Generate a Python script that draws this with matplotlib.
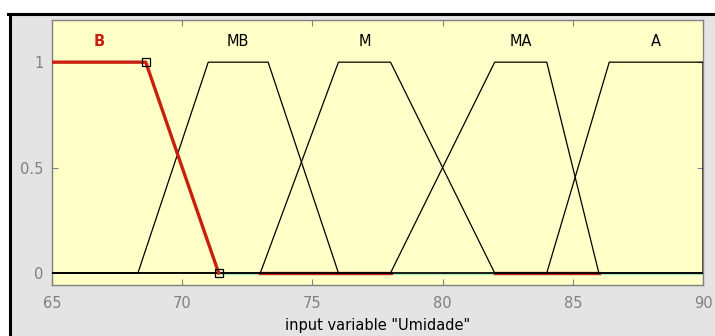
import matplotlib
matplotlib.use('Agg')
import matplotlib.pyplot as plt
import matplotlib.patches as patches
from matplotlib.lines import Line2D

# trapezoidal membership functions of "Umidade"
mf_names = ['B', 'MB', 'M', 'MA', 'A']
mf_params = [
    [65.0, 65.0, 68.6, 71.4],
    [68.3, 71.0, 73.3, 76.0],
    [73.0, 76.0, 78.0, 82.0],
    [78.0, 82.0, 84.0, 86.0],
    [84.0, 86.4, 90.0, 90.0],
]
selected = 'B'
x_range = [65, 90]
x_ticks = [65, 70, 75, 80, 85, 90]
y_ticks = [0, 0.5, 1]
y_tick_labels = ['0', '0.5', '1']
# highlighted pieces of the zero line (red) as seen in the picture
red_zero_segments = [[73.0, 78.0], [82.0, 86.0]]
xlabel = 'input variable "Umidade"'

RED = '#c8200e'

fig = plt.figure(figsize=(7.15, 3.36), dpi=100, facecolor='white')
# gray panel with black top/left border
fig.patches.append(patches.Rectangle((9/715, 0), 1, 1 - 14/336, transform=fig.transFigure,
                                     facecolor='#e4e4e4', edgecolor='none', zorder=-10))
fig.lines.append(Line2D([8/715, 1], [1 - 14/336, 1 - 14/336], transform=fig.transFigure,
                        color='black', lw=2.2))
fig.lines.append(Line2D([9.5/715, 9.5/715], [0, 1 - 14/336], transform=fig.transFigure,
                        color='black', lw=2.2))

ax = fig.add_axes([52/715, 51/336, 651/715, 265/336])
ax.set_facecolor('#ffffc8')
ax.set_xlim(x_range)
ax.set_ylim(-0.057, 1.2)

# light green baseline
ax.plot([mf_params[0][3], x_range[1]], [-0.006, -0.006], color='#a8eec0', lw=1.6, zorder=1)

for name, (a, b, c, d) in zip(mf_names, mf_params):
    xs = [x_range[0], a, b, c, d, x_range[1]]
    ys = [0, 0, 1, 1, 0, 0]
    if name == selected:
        ax.plot([b, c, d], [1, 1, 0], color=RED, lw=2.4, zorder=4)
        ax.plot([c, d], [1, 0], ls='none', marker='s', ms=6, mfc='none', mec='black',
                mew=0.9, zorder=5)
        ax.text((b + c) / 2, 1.1, name, color=RED,
                fontweight='bold', ha='center', va='center', fontsize=10.5)
    else:
        ax.plot(xs, ys, color='black', lw=0.9, zorder=3)
        ax.text((b + c) / 2, 1.1, name, color='black', ha='center', va='center', fontsize=10.5)

for x0, x1 in red_zero_segments:
    ax.plot([x0, x1], [0, 0], color=RED, lw=2.4, zorder=2.5)

ax.set_xticks(x_ticks)
ax.set_yticks(y_ticks)
ax.set_yticklabels(y_tick_labels)
ax.tick_params(direction='in', length=4, colors='#808080', labelcolor='#808080',
               labelsize=10.5, top=True, right=True)
ax.tick_params(axis='x', pad=8)
ax.tick_params(axis='y', pad=6)
for s in ax.spines.values():
    s.set_color('#808080')
    s.set_linewidth(1.0)
ax.set_xlabel(xlabel, fontsize=10.5, color='black', labelpad=5)

fig.savefig('out.png', dpi=100, facecolor='white')
